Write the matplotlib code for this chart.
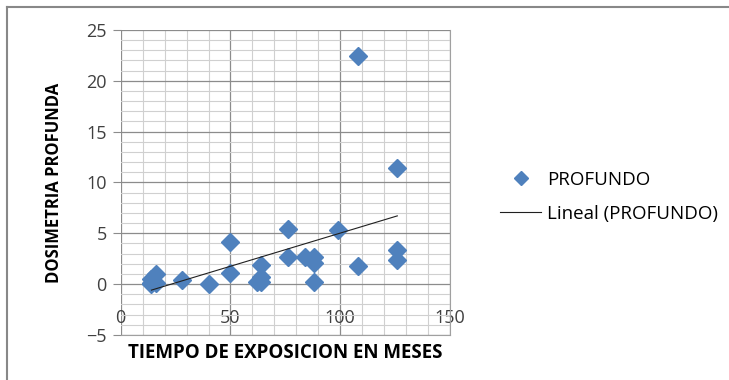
import matplotlib.pyplot as plt
import numpy as np

# datos
meses = [108, 126, 76, 99, 50, 126, 126, 76, 84, 88, 88, 108, 64, 50, 64,
         62, 64, 88, 40, 28, 16, 14, 14, 16, 14]
dosis = [22.4, 11.45, 5.45, 5.35, 4.1, 3.37, 2.4, 2.64, 2.64, 2.64, 2.1, 1.8, 1.9, 1.05, 0.66,
         0.17, 0.17, 0.23, 0.0, 0.4, 1.0, 0.5, 0.0, 0.15, 0.1]

plt.rcParams['font.family'] = ['Open Sans', 'DejaVu Sans']

fig = plt.figure(figsize=(7.29, 3.80), dpi=100)
ax = fig.add_axes([120.7/729, 45/380, (450-120.7)/729, (335-30)/380])

azul = '#4F81BD'
ax.plot(meses, dosis, 'D', color=azul, markersize=9.5, linestyle='none', label='PROFUNDO', zorder=3)

# linea de tendencia
m, b = np.polyfit(meses, dosis, 1)
xt = np.array([min(meses), max(meses)])
ax.plot(xt, m*xt + b, color='#202020', linewidth=0.8, label='Lineal (PROFUNDO)', zorder=4)

ax.set_xlim(0, 150)
ax.set_ylim(-5, 25)
ax.set_xticks([0, 50, 100, 150])
ax.set_yticks([-5, 0, 5, 10, 15, 20, 25])
ax.set_xticks(np.arange(0, 151, 10), minor=True)
ax.set_yticks(np.arange(-5, 26, 1), minor=True)
ax.grid(which='major', color='#8c8c8c', linewidth=0.9)
ax.grid(which='minor', color='#d0d0d0', linewidth=0.8)
ax.set_axisbelow(True)

for s in ['top', 'left']:
    ax.spines[s].set_visible(False)
ax.spines['right'].set_color('#a0a0a0')
ax.spines['bottom'].set_color('#a0a0a0')

ax.tick_params(axis='x', which='both', length=0, pad=-19, labelsize=13, colors='#404040')
ax.tick_params(axis='y', which='major', length=6, color='#8c8c8c', labelsize=13, pad=4, labelcolor='#404040')
ax.tick_params(axis='y', which='minor', length=0)

ax.set_xlabel('TIEMPO DE EXPOSICION EN MESES', fontsize=13.5, fontweight='bold', labelpad=6)
ax.set_ylabel('DOSIMETRIA PROFUNDA', fontsize=12, fontweight='bold', labelpad=17)

fig.legend(loc='center left', bbox_to_anchor=(500/729, 1 - 197/380), frameon=False,
           fontsize=13.5, handlelength=2.2, handletextpad=0.3, labelspacing=0.85, markerscale=0.75,
           borderpad=0, borderaxespad=0)

# borde exterior
fig.add_artist(plt.Line2D([7/729, 7/729], [0, 1 - 7/380], transform=fig.transFigure, color='#888888', linewidth=1.5))
fig.add_artist(plt.Line2D([7/729, 1], [1 - 7/380, 1 - 7/380], transform=fig.transFigure, color='#888888', linewidth=1.5))

fig.savefig('out.png', dpi=100)
